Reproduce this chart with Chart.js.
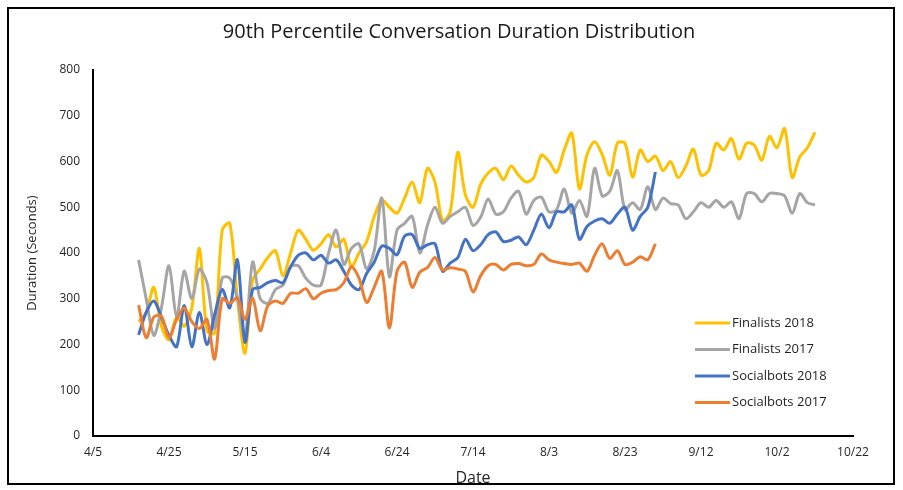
<!DOCTYPE html>
<html>
<head>
<meta charset="utf-8">
<script src="https://cdn.jsdelivr.net/npm/chart.js@4"></script>
<style>
  body { margin: 0; background: #fff; }
  #wrap { position: relative; width: 903px; height: 490px; }
  #frame {
    position: absolute; left: 7px; top: 7px; width: 884px; height: 474px;
    border: 2px solid #000; pointer-events: none;
  }
  canvas { position: absolute; left: 0; top: 0; }
</style>
</head>
<body>
<div id="wrap">
  <canvas id="durationChart" width="903" height="490"></canvas>
  <div id="frame"></div>
</div>
<script>
// day-of-year of the first point, points every 2 days
const startDay = 107;
const stepDays = 2;

const finalists2018 = [
  250, 270, 325, 240, 210, 260, 240, 280, 410, 230,
  225, 450, 465, 300, 181, 340, 365, 390, 405, 350,
  400, 450, 430, 406, 420, 440, 413, 430, 370, 400,
  425, 479, 516, 500, 487, 520, 555, 510, 585, 555,
  470, 490, 620, 527, 500, 550, 575, 585, 560, 590,
  570, 555, 565, 614, 600, 576, 625, 662, 540, 615,
  643, 615, 570, 640, 640, 566, 625, 600, 612, 580,
  600, 565, 590, 627, 570, 580, 640, 625, 650, 605,
  640, 636, 603, 655, 630, 672, 565, 610, 630, 664
];

const finalists2017 = [
  385, 300, 220, 280, 372, 260, 360, 300, 365, 335,
  235, 345, 345, 300, 215, 380, 300, 290, 320, 330,
  370, 372, 345, 330, 330, 400, 450, 375, 410, 420,
  365, 405, 520, 348, 450, 465, 480, 400, 460, 500,
  465, 480, 490, 500, 460, 478, 518, 485, 490, 520,
  535, 485, 515, 522, 490, 495, 540, 487, 515, 480,
  585, 525, 535, 580, 495, 510, 495, 545, 495, 520,
  508, 505, 475, 490, 510, 500, 515, 500, 512, 475,
  530, 530, 512, 530, 530, 525, 487, 530, 510, 505
];

const socialbots2018 = [
  221, 270, 295, 260, 220, 195, 285, 195, 270, 200,
  265, 320, 280, 385, 205, 320, 325, 335, 340, 335,
  370, 395, 400, 385, 395, 378, 385, 360, 330, 320,
  355, 380, 415, 410, 396, 437, 440, 410, 418, 420,
  360, 378, 390, 430, 405, 418, 440, 446, 425, 428,
  435, 418, 450, 485, 455, 490, 490, 505, 430, 458,
  470, 475, 465, 485, 500, 450, 480, 500, 577
];

const socialbots2017 = [
  286, 215, 260, 262, 215, 255, 280, 250, 235, 255,
  168, 300, 290, 302, 255, 302, 230, 285, 295, 290,
  312, 312, 322, 300, 312, 318, 320, 335, 370, 345,
  292, 325, 360, 236, 360, 380, 325, 358, 368, 390,
  363, 368, 365, 360, 315, 350, 372, 375, 363, 375,
  377, 372, 375, 398, 385, 380, 377, 375, 378, 360,
  395, 420, 388, 405, 375, 380, 392, 385, 420
];

const seriesNames = ["Finalists 2018", "Finalists 2017", "Socialbots 2018", "Socialbots 2017"];
const seriesColors = ["#FFC000", "#A5A5A5", "#4472C4", "#ED7D31"];

const monthDays = [31, 28, 31, 30, 31, 30, 31, 31, 30, 31, 30, 31];

function dayLabel(day) {
  let m = 0;
  while (day > monthDays[m]) {
    day -= monthDays[m];
    m++;
  }
  return (m + 1) + "/" + day;
}

function toPoints(values) {
  return values.map((v, i) => ({ x: startDay + i * stepDays, y: v }));
}

const fontFamily = "'Open Sans', 'Liberation Sans', sans-serif";

// legend drawn inside the plot, like the original
const insideLegend = {
  id: "insideLegend",
  afterDraw(chart) {
    const ctx = chart.ctx;
    const area = chart.chartArea;
    const x0 = area.right - 158;
    ctx.save();
    ctx.font = "13px " + fontFamily;
    ctx.textBaseline = "middle";
    ctx.fillStyle = "#1f1f1f";
    seriesNames.forEach((name, i) => {
      const y = area.top + 253 + i * 26.5;
      ctx.strokeStyle = seriesColors[i];
      ctx.lineWidth = 3;
      ctx.beginPath();
      ctx.moveTo(x0, y);
      ctx.lineTo(x0 + 35, y);
      ctx.stroke();
      ctx.fillText(name, x0 + 37, y);
    });
    ctx.restore();
  }
};

const chartTitle = {
  id: "chartTitle",
  afterDraw(chart) {
    const ctx = chart.ctx;
    ctx.save();
    ctx.font = "20px " + fontFamily;
    ctx.fillStyle = "#1a1a1a";
    ctx.textAlign = "center";
    ctx.textBaseline = "middle";
    ctx.fillText("90th Percentile Conversation Duration Distribution", 459, 32);
    ctx.restore();
  }
};

const datasets = [finalists2018, finalists2017, socialbots2018, socialbots2017].map((vals, i) => ({
  label: seriesNames[i],
  data: toPoints(vals),
  borderColor: seriesColors[i],
  backgroundColor: seriesColors[i],
  borderWidth: 3,
  pointRadius: 0,
  tension: 0.3,
  fill: false
}));

new Chart(document.getElementById("durationChart"), {
  type: "line",
  data: { datasets: datasets.slice().reverse() },
  options: {
    responsive: false,
    animation: false,
    layout: { padding: { left: 0, right: 50, top: 70, bottom: 0 } },
    plugins: {
      legend: { display: false },
      title: { display: false },
      tooltip: { enabled: false }
    },
    scales: {
      x: {
        type: "linear",
        min: 95,
        max: 295,
        afterFit: scale => { scale.height = 54; },
        grid: { display: false, drawTicks: false },
        border: { display: true, color: "#000", width: 2 },
        ticks: {
          stepSize: 20,
          padding: 9,
          color: "#262626",
          font: { family: fontFamily, size: 12 },
          maxRotation: 0,
          callback: v => dayLabel(v)
        },
        title: {
          display: true,
          text: "Date",
          color: "#262626",
          font: { family: fontFamily, size: 16 },
          padding: { top: 2, bottom: 2 }
        }
      },
      y: {
        min: 0,
        max: 800,
        afterFit: scale => { scale.width = 93; },
        grid: { display: false, drawTicks: false },
        border: { display: true, color: "#000", width: 2 },
        ticks: {
          stepSize: 100,
          padding: 13,
          color: "#262626",
          font: { family: fontFamily, size: 12 }
        },
        title: {
          display: true,
          text: "Duration (Seconds)",
          color: "#262626",
          font: { family: fontFamily, size: 13 },
          padding: { top: 24, bottom: 0 }
        }
      }
    }
  },
  plugins: [insideLegend, chartTitle]
});
</script>
</body>
</html>
